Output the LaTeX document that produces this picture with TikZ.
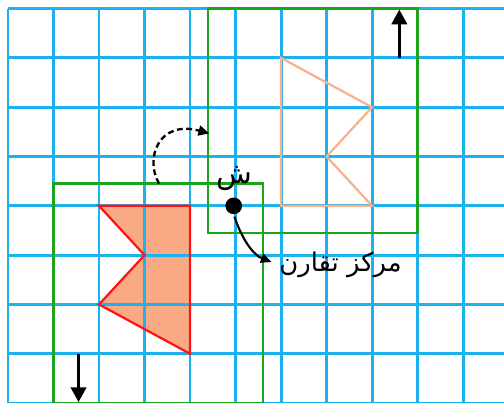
\documentclass[tikz,border=0pt]{standalone}
\usepackage{fontspec}
\usetikzlibrary{arrows.meta}
\TeXXeTstate=1
\newfontfamily\arabicfont[Script=Arabic]{DejaVu Sans}
\definecolor{GridBlue}{HTML}{1CB2F2}
\definecolor{FrameGreen}{HTML}{1CA51C}
\definecolor{ShapeRed}{HTML}{FF1414}
\definecolor{ShapeFill}{HTML}{F9A983}
\definecolor{ImageOutline}{HTML}{F8B18E}
\tikzset{
    % Grid and frames
    gridline/.style={
        draw=GridBlue,
        line width=2.5pt
    },
    greenframe/.style={
        draw=FrameGreen,
        line width=2pt
    },
    % Shapes
    origshape/.style={
        draw=ShapeRed,
        line width=1.9pt,
        line join=miter
    },
    imageshape/.style={
        draw=ImageOutline,
        line width=1.9pt
    },
    % Arrows
    dirarrow/.style={
        -{Triangle[length=0.44cm,width=0.46cm]},
        line width=2.3pt
    },
    turnarrow/.style={
        -{Triangle[length=0.32cm,width=0.3cm]},
        line width=2pt,
        dash pattern=on 5pt off 3pt
    },
    labelarrow/.style={
        -{Triangle[length=0.32cm,width=0.28cm]},
        line width=1.8pt
    },
    centerdot/.style={
        circle,
        fill=black,
        inner sep=0pt,
        minimum size=0.5cm
    },
    arlabel/.style={
        font=\arabicfont\fontsize{22}{26}\selectfont,
        inner sep=0pt
    }
}
\begin{document}
\begin{tikzpicture}[x=1.365cm, y=1.479cm]
    \useasboundingbox (-0.176,0.02) rectangle (10.9,8.175);
    \clip (-0.176,0.02) rectangle (10.9,8.175);

    % Filled original shape (under the grid)
    \fill[ShapeFill] (2,4) -- (4,4) -- (4,1) -- (2,2) -- (3,3) -- cycle;

    % Grid
    \foreach \x in {0,...,10}
        \draw[gridline] (\x,0) -- (\x,8);
    \foreach \y in {0,...,8}
        \draw[gridline] (0,\y) -- (10.9,\y);

    % Frames
    \draw[greenframe] (1,0) rectangle (5.6,4.45);
    \draw[greenframe] (4.4,3.45) rectangle (9,8);

    % Original and rotated shape
    \draw[origshape] (2,4) -- (4,4) -- (4,1) -- (2,2) -- (3,3) -- cycle;
    \draw[imageshape] (8,4) -- (6,4) -- (6,7) -- (8,6) -- (7,5) -- cycle;

    % Direction arrows
    \coordinate (downtail) at (1.55,1);
    \coordinate (downhead) at (1.55,0.02);
    \coordinate (uptail) at (8.6,7);
    \coordinate (uphead) at (8.6,7.98);
    \draw[dirarrow] (downtail) -- (downhead);
    \draw[dirarrow] (uptail) -- (uphead);

    % Rotation arrow
    \coordinate (turnstart) at (3.32,4.45);
    \coordinate (turnend) at (4.42,5.47);
    \draw[turnarrow] (turnstart) .. controls (3.0,4.95) and (3.3,5.75) .. (turnend);

    % Centre of symmetry
    \node[centerdot] (cdot) at (4.96,4) {};
    \node[arlabel, font=\arabicfont\fontsize{25}{28}\selectfont] (shin) at (4.98,4.55) {\beginR ش\endR};
    \node[arlabel, anchor=west] (lbl) at (5.96,2.8) {\beginR مركز تقارن\endR};
    \draw[labelarrow, shorten <=2pt, shorten >=7pt] (cdot.south) .. controls (5.15,3.3) and (5.4,3.0) .. (lbl.west);
\end{tikzpicture}
\end{document}
